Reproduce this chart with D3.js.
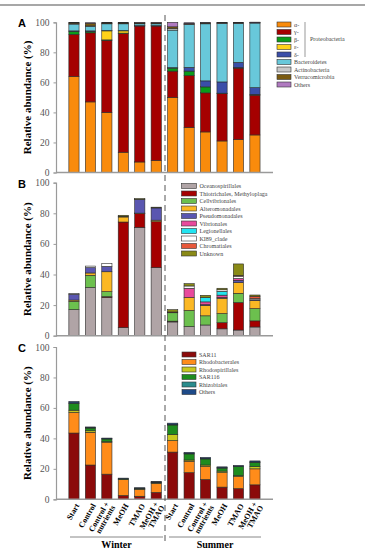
<!DOCTYPE html>
<html>
<head>
<meta charset="utf-8">
<script src="https://cdn.jsdelivr.net/npm/d3@7"></script>
<style>
  body { margin: 0; background: #fff; }
  svg text { font-family: "Liberation Serif", "DejaVu Serif", serif; }
</style>
</head>
<body>
<svg width="365" height="558"></svg>
<script>
// samples (winter then summer)
var samples = ["W-Start", "W-Control", "W-Control+N", "W-MeOH", "W-TMAO", "W-MeOH+TMAO",
               "S-Start", "S-Control", "S-Control+N", "S-MeOH", "S-TMAO", "S-MeOH+TMAO"];
var sampleLabels = [["Start"], ["Control"], ["Control +", "nutrients"], ["MeOH"], ["TMAO"], ["MeOH +", "TMAO"],
                    ["Start"], ["Control"], ["Control +", "nutrients"], ["MeOH"], ["TMAO"], ["MeOH +", "TMAO"]];
var seasons = ["Winter", "Summer"];
var yTicks = [0, 20, 40, 60, 80, 100];

// panel A: phyla / proteobacteria classes
var namesA = ["α-", "γ-", "β-", "ε-", "δ-", "Bacteroidetes", "Actinobacteria", "Verrucomicrobia", "Others"];
var colorsA = ["#f98b0c", "#a50000", "#0a9b1a", "#ffd21a", "#3a4ea8", "#68c8da", "#c8c8c8", "#7a5a10", "#b07ac0"];
var alpha = [64, 47, 40, 13.5, 7, 8, 50, 30, 27, 21, 22, 25];
var gamma = [28, 46, 48, 79, 90.5, 89.5, 17.5, 34.5, 26, 31.5, 47.5, 26.5];
var beta = [2, 1, 0.3, 0.3, 0, 0, 2, 3, 4, 0.3, 0.3, 0.5];
var epsilon = [0, 0, 6, 1.5, 0, 0, 0, 0, 0, 0, 0, 0];
var delta = [0.3, 0.3, 0.2, 0.2, 0.3, 0.3, 0.3, 2.5, 4, 7.5, 3.5, 4.5];
var bacteroidetes = [4.5, 3, 4.5, 4.5, 1.2, 1.2, 25, 28.5, 38, 39, 26, 43];
var actino = [0.3, 0.3, 0.3, 0.3, 0.3, 0.3, 1.2, 0.3, 0.2, 0.2, 0.2, 0.2];
var verruco = [0.6, 1.8, 0.3, 0.3, 0.5, 0.5, 1, 0.5, 0.3, 0.2, 0.2, 0.2];
var othersA = [0.3, 0.3, 0.4, 0.2, 0.2, 0.2, 3, 0.4, 0.3, 0.2, 0.2, 0.2];

// panel B: gammaproteobacteria orders
var namesB = ["Oceanospirillales", "Thiotrichales, Methyloplaga", "Cellvibrionales", "Alteromonadales",
              "Pseudomonadales", "Vibrionales", "Legionellales", "KI89_clade", "Chromatiales", "Unknown"];
var colorsB = ["#b0a4a6", "#a50000", "#6cc04e", "#fbb824", "#5a56b0", "#e84a9c", "#22e4f0", "#ffffff", "#e8583a", "#8a8a16"];
var oceano = [17, 31.5, 25, 5.3, 70.8, 44.5, 9, 6, 7, 4.5, 3.7, 5.7];
var thio = [0, 0, 0.5, 69, 9, 30, 0.5, 0, 0, 4, 18, 4];
var cellv = [5.5, 8, 3.3, 0, 0, 0, 5.5, 10.5, 6, 6, 6, 8];
var altero = [0.8, 1.5, 13, 3.3, 0.3, 1, 0, 8.5, 6.8, 10, 7, 5.3];
var pseudo = [3.8, 3.5, 3.5, 0.4, 9, 8, 0, 0, 0.5, 0.5, 1.5, 0.5];
var vibrio = [0, 0, 0, 0, 0, 0, 0, 6, 1.8, 1.5, 1.2, 0];
var legion = [0, 0, 0, 0, 0, 0, 0, 0, 2.8, 2.5, 0, 0];
var ki89 = [0.4, 1, 1.8, 0, 0, 0, 0, 1.5, 0, 1, 1.5, 0.8];
var chrom = [0, 0, 0, 0, 0, 0, 0.5, 0, 0, 0, 0.5, 1.5];
var unknown = [0, 0, 0, 0.7, 0.5, 0.5, 1.5, 1.5, 1.5, 1, 7.5, 0.8];

// panel C: alphaproteobacteria orders
var namesC = ["SAR11", "Rhodobacterales", "Rhodospirillales", "SAR116", "Rhizobiales", "Others"];
var colorsC = ["#8b0a0a", "#ff8c1a", "#c8c81e", "#1e8c1e", "#2a8c8c", "#1e4a88"];
var sar11 = [43.5, 22.5, 16.5, 2.5, 2, 4.5, 31, 17.5, 13, 8, 7, 9.5];
var rhodob = [13.5, 21.5, 21, 10.5, 4.5, 6, 7.5, 7.5, 8.5, 9.5, 8, 10.5];
var rhodosp = [1.5, 1, 0.3, 0.2, 0.3, 0.3, 4, 0.8, 1, 1, 0.5, 1.5];
var sar116 = [4.5, 1.8, 1.8, 0.4, 0.5, 0.4, 6.3, 4, 4, 2, 6, 2.8];
var rhizob = [0.3, 0.2, 0.2, 0, 0, 0.1, 0.2, 0.2, 0.2, 0.2, 0.2, 0.2];
var othersC = [0.9, 0.5, 0.4, 0.3, 0.3, 0.3, 1, 0.8, 0.8, 0.6, 0.5, 0.7];

var svg = d3.select("svg");

var x = d3.scaleBand()
  .domain(samples)
  .range([62.6, 266.3])
  .paddingInner(0.38)
  .paddingOuter(0.38);

// top rule
svg.append("line")
  .attr("x1", 0).attr("x2", 365).attr("y1", 5).attr("y2", 5)
  .attr("stroke", "#8a8a8a").attr("stroke-width", 1.5);

function drawPanel(cfg) {
  var y = d3.scaleLinear().domain([0, 100]).range([cfg.y0, cfg.y1]);
  var g = svg.append("g");

  var rows = samples.map(function(s, i) {
    var r = { sample: s };
    cfg.names.forEach(function(n, k) { r[n] = cfg.series[k][i]; });
    return r;
  });
  var stacked = d3.stack().keys(cfg.names)(rows);

  g.selectAll("g.layer")
    .data(stacked)
    .enter().append("g")
    .attr("class", "layer")
    .attr("fill", function(d, k) { return cfg.colors[k]; })
    .selectAll("rect")
    .data(function(d) { return d.filter(function(p) { return p[1] - p[0] > 0; }); })
    .enter().append("rect")
    .attr("x", function(d) { return x(d.data.sample); })
    .attr("width", x.bandwidth())
    .attr("y", function(d) { return y(d[1]); })
    .attr("height", function(d) { return y(d[0]) - y(d[1]); })
    .attr("stroke", "#2a2a2a")
    .attr("stroke-width", 0.6);

  // y axis
  var yAxis = d3.axisLeft(y).tickValues(yTicks).tickSize(2.5).tickPadding(4);
  var ya = g.append("g").attr("transform", "translate(56,0)").call(yAxis);
  ya.select(".domain").attr("stroke", "#9a9a9a").attr("stroke-width", 1.2);
  ya.selectAll(".tick line").attr("stroke", "#9a9a9a");
  ya.selectAll(".tick text")
    .attr("fill", "#555")
    .style("font-family", "Liberation Serif, serif")
    .style("font-size", "9.5px");

  // x axis base line
  g.append("line")
    .attr("x1", 56).attr("x2", 273)
    .attr("y1", cfg.y0).attr("y2", cfg.y0)
    .attr("stroke", "#9a9a9a").attr("stroke-width", 1.5);

  // axis title
  g.append("text")
    .attr("transform", "translate(31," + ((cfg.y0 + cfg.y1) / 2) + ") rotate(-90)")
    .attr("text-anchor", "middle")
    .style("font-weight", "bold")
    .style("font-size", "11px")
    .text("Relative abundance (%)");

  // panel letter
  g.append("text")
    .attr("x", 18).attr("y", cfg.y1 + 5)
    .style("font-family", "Liberation Sans, Arial, sans-serif")
    .style("font-weight", "bold")
    .style("font-size", "11px")
    .text(cfg.letter);

  // legend
  var lg = g.append("g").attr("transform", "translate(" + cfg.legX + "," + cfg.legY + ")");
  var item = lg.selectAll("g")
    .data(cfg.names)
    .enter().append("g")
    .attr("transform", function(d, i) { return "translate(0," + (i * 7.5) + ")"; });
  item.append("rect")
    .attr("x", 0).attr("y", -2.5)
    .attr("width", cfg.swW).attr("height", 5)
    .attr("fill", function(d, i) { return cfg.colors[i]; })
    .attr("stroke", "#333").attr("stroke-width", 0.6);
  item.append("text")
    .attr("x", cfg.swW + 3).attr("y", 2)
    .attr("fill", "#444")
    .style("font-size", "6px")
    .text(function(d) { return d; });
  return g;
}

drawPanel({
  letter: "A", y0: 172.5, y1: 22.3,
  names: namesA, colors: colorsA,
  series: [alpha, gamma, beta, epsilon, delta, bacteroidetes, actino, verruco, othersA],
  legX: 277, legY: 24.5, swW: 14
});

// proteobacteria bracket
svg.append("line")
  .attr("x1", 305).attr("x2", 305).attr("y1", 22).attr("y2", 57)
  .attr("stroke", "#999").attr("stroke-width", 1);
svg.append("text")
  .attr("x", 310).attr("y", 41)
  .attr("fill", "#444")
  .style("font-size", "6px")
  .text("Proteobacteria");

drawPanel({
  letter: "B", y0: 335.7, y1: 182.7,
  names: namesB, colors: colorsB,
  series: [oceano, thio, cellv, altero, pseudo, vibrio, legion, ki89, chrom, unknown],
  legX: 181.5, legY: 186, swW: 15
});

var gC = drawPanel({
  letter: "C", y0: 499.3, y1: 347,
  names: namesC, colors: colorsC,
  series: [sar11, rhodob, rhodosp, sar116, rhizob, othersC],
  legX: 182, legY: 354.5, swW: 14
});

// season divider
svg.append("line")
  .attr("x1", 165).attr("x2", 165).attr("y1", 15).attr("y2", 544)
  .attr("stroke", "#555").attr("stroke-width", 1)
  .attr("stroke-dasharray", "6,4");

// x labels
var lab = svg.append("g").selectAll("text")
  .data(samples)
  .enter().append("text")
  .attr("transform", function(d) {
    return "translate(" + (x(d) + x.bandwidth() / 2 + 3) + ",504) rotate(-60)";
  })
  .attr("text-anchor", "end")
  .style("font-weight", "bold")
  .style("font-size", "8px");
lab.each(function(d, i) {
  var lines = sampleLabels[i];
  d3.select(this).selectAll("tspan")
    .data(lines)
    .enter().append("tspan")
    .attr("x", 0)
    .attr("y", function(t, k) { return (k - (lines.length - 1) / 2) * 7 + 3; })
    .text(function(t) { return t; });
});

// season brackets
var seasonSpan = [[70, 163], [169, 261]];
seasons.forEach(function(s, i) {
  svg.append("line")
    .attr("x1", seasonSpan[i][0]).attr("x2", seasonSpan[i][1])
    .attr("y1", 537).attr("y2", 537)
    .attr("stroke", "#888").attr("stroke-width", 1);
  svg.append("text")
    .attr("x", (seasonSpan[i][0] + seasonSpan[i][1]) / 2)
    .attr("y", 548)
    .attr("text-anchor", "middle")
    .style("font-weight", "bold")
    .style("font-size", "10px")
    .text(s);
});
</script>
</body>
</html>
